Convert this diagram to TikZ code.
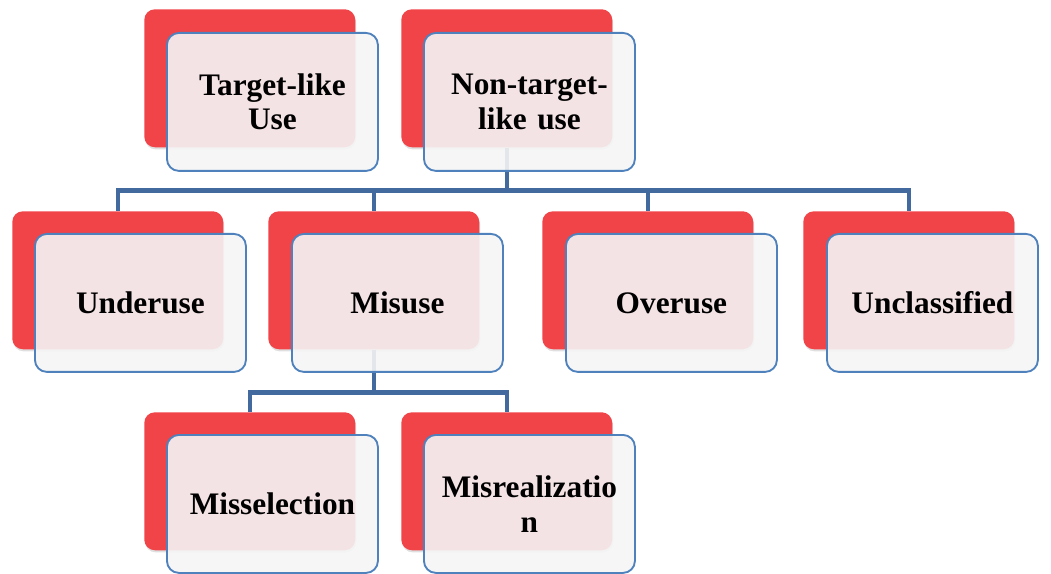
\documentclass[tikz,border=0pt]{standalone}
\usepackage{fontspec}
\setmainfont{Liberation Serif}
\usetikzlibrary{shadows}
\definecolor{bkred}{RGB}{240,68,72}
\definecolor{frgray}{RGB}{245,245,245}
\definecolor{frblue}{RGB}{79,129,189}
\definecolor{lnblue}{RGB}{66,106,158}
\tikzset{
  tree/.style={x=0.75pt,y=-0.75pt},
  backbox/.style={draw=none,fill=bkred,rounded corners=8pt,anchor=north west,
    minimum width=158.25pt,minimum height=103.5pt,inner sep=0pt,
    drop shadow={opacity=0.25,shadow xshift=0.6pt,shadow yshift=-1.6pt}},
  frontbox/.style={draw=frblue,line width=1.4pt,fill=frgray,fill opacity=0.9,text opacity=1,
    rounded corners=9pt,anchor=north west,minimum width=158.25pt,minimum height=103.5pt,
    inner sep=0pt,align=center,text width=150pt,
    font=\fontsize{23.5}{26}\selectfont\bfseries},
  conn/.style={draw=lnblue,line width=3.2pt}
}

\begin{document}
\begin{tikzpicture}[tree]
    \useasboundingbox (0,0) rectangle (1051,574);
    % back boxes
    \node[backbox] (tlu-bk) at (144,9)   {};
    \node[backbox] (ntl-bk) at (401,9)   {};
    \node[backbox] (und-bk) at (12,211)  {};
    \node[backbox] (mis-bk) at (268,211) {};
    \node[backbox] (ove-bk) at (542,211) {};
    \node[backbox] (unc-bk) at (803,211) {};
    \node[backbox] (msl-bk) at (144,412) {};
    \node[backbox] (mrl-bk) at (401,412) {};
    % connectors
    \foreach \c in {und,mis,ove,unc}
      \draw[conn] (ntl-bk.south) -- ++(0,43) -| (\c-bk.north);
    \foreach \c in {msl,mrl}
      \draw[conn] (mis-bk.south) -- ++(0,43) -| (\c-bk.north);
    % front boxes
    \node[frontbox] (tlu) at (166,32)  {Target-like\\Use};
    \node[frontbox] (ntl) at (423,32)  {Non-target-\\like use};
    \node[frontbox] (und) at (34,233)  {Underuse};
    \node[frontbox] (mis) at (291,233) {Misuse};
    \node[frontbox] (ove) at (565,233) {Overuse};
    \node[frontbox] (unc) at (826,233) {Unclassified};
    \node[frontbox] (msl) at (166,434) {Misselection};
    \node[frontbox] (mrl) at (423,434) {Misrealizatio\\n};
  \end{tikzpicture}
\end{document}
